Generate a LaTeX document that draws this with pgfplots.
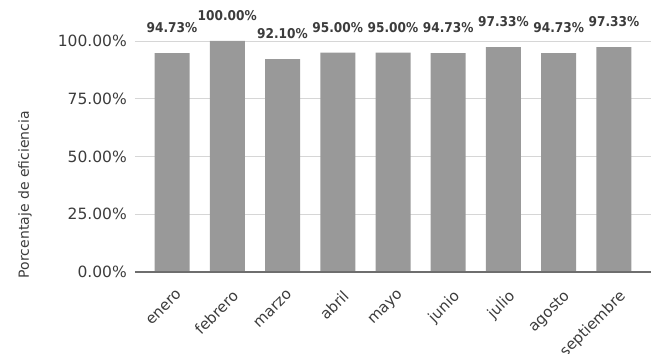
\documentclass[border=0pt]{standalone}
\usepackage{pgfplots}
\pgfplotsset{compat=1.18}
\usepackage{fontspec}
\setmainfont{DejaVu Sans}
\newfontfamily\labfont{DejaVu Sans Condensed Bold}
\definecolor{barc}{HTML}{999999}
\definecolor{gridc}{HTML}{D6D6D6}
\definecolor{basec}{HTML}{6E6E6E}
\definecolor{txt}{HTML}{3C3C3C}
\newcommand\tickfont{\fontsize{15.5bp}{18bp}\selectfont}
\begin{document}
\begin{tikzpicture}
\useasboundingbox (-135bp,-82bp) rectangle (523bp,272bp);
\begin{axis}[
  at={(0,0)}, anchor=south west,
  scale only axis, width=516bp, height=231bp,
  ymin=0, ymax=100, xmin=-0.67, xmax=8.67,
  axis line style={draw=none},
  major tick length=0,
  ybar, bar width=35bp,
  ytick={0,25,50,75,100},
  ymajorgrids, grid style={gridc, line width=0.8bp},
  /pgf/number format/assume math mode=true,
  yticklabel={\pgfmathprintnumber[fixed,fixed zerofill,precision=2]{\tick}\%},
  yticklabel style={anchor=east, inner sep=0pt, xshift=-8bp, font=\tickfont, text=txt},
  xtick=data,
  xticklabels={enero,febrero,marzo,abril,mayo,junio,julio,agosto,septiembre},
  xticklabel style={xshift=4bp, yshift=-17bp, rotate=45, anchor=north east, inner sep=0pt, font=\fontsize{15bp}{18bp}\selectfont, text=txt},
  ylabel={Porcentaje de eficiencia},
  ylabel style={at={(axis description cs:-0.213,0.335)}, anchor=center, font=\fontsize{14bp}{17bp}\selectfont, text=txt},
  nodes near coords={\pgfmathprintnumber[fixed,fixed zerofill,precision=2]{\pgfplotspointmeta}\%},
  nodes near coords style={anchor=south, inner sep=0pt, yshift=20bp, font=\labfont\fontsize{13.5bp}{16bp}\selectfont, text=txt},
  clip=false,
]
\addplot[fill=barc, draw=none] coordinates {
(0,94.73) (1,100.00) (2,92.10) (3,95.00) (4,95.00) (5,94.73) (6,97.33) (7,94.73) (8,97.33)};
\draw[basec, line width=1.5bp] (axis cs:-0.67,0) -- (axis cs:8.67,0);
\end{axis}
\end{tikzpicture}
\end{document}
